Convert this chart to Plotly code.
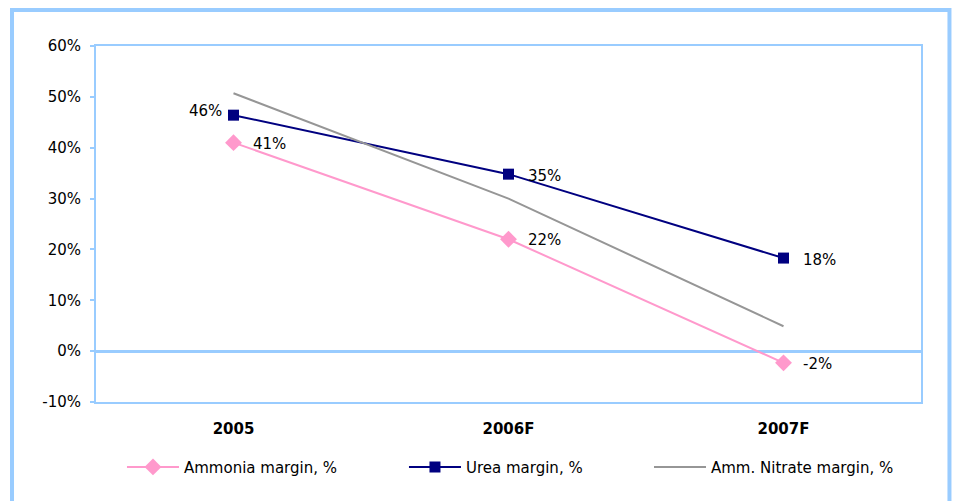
import plotly.graph_objects as go

categories = ["2005", "2006F", "2007F"]
ammonia = [0.41, 0.22, -0.023]
urea = [0.464, 0.348, 0.183]
amm_nitrate = [0.507, 0.30, 0.049]
ammonia_labels = ["41%", "22%", "-2%"]
urea_labels = ["46%", "35%", "18%"]
urea_label_side = ["left", "right", "right"]
y_ticks = [-0.1, 0, 0.1, 0.2, 0.3, 0.4, 0.5, 0.6]
y_tick_labels = ["-10%", "0%", "10%", "20%", "30%", "40%", "50%", "60%"]

BLUE = "#99CCFF"
PINK = "#FF99CC"
NAVY = "#000080"
GRAY = "#969696"
FONT = "DejaVu Sans"

fig = go.Figure()
fig.add_trace(go.Scatter(x=categories, y=ammonia, name="Ammonia margin, %",
                         mode="lines+markers", legend="legend",
                         line=dict(color=PINK, width=2),
                         marker=dict(symbol="diamond", size=13, color=PINK)))
fig.add_trace(go.Scatter(x=categories, y=urea, name="Urea margin, %",
                         mode="lines+markers", legend="legend2",
                         line=dict(color=NAVY, width=2),
                         marker=dict(symbol="square", size=11, color=NAVY)))
fig.add_trace(go.Scatter(x=categories, y=amm_nitrate, name="Amm. Nitrate margin, %",
                         mode="lines", legend="legend3",
                         line=dict(color=GRAY, width=2)))

lab_font = dict(family=FONT, size=15, color="#000000")
annotations = []
for i, (v, t) in enumerate(zip(ammonia, ammonia_labels)):
    annotations.append(dict(x=i, y=v, xref="x", yref="y", text=t, showarrow=False,
                            xanchor="left", xshift=17, yshift=-1, font=lab_font))
for i, (v, t, side) in enumerate(zip(urea, urea_labels, urea_label_side)):
    if side == "left":
        annotations.append(dict(x=i, y=v, xref="x", yref="y", text=t, showarrow=False,
                                xanchor="right", xshift=-10, yshift=4, font=lab_font))
    else:
        annotations.append(dict(x=i, y=v, xref="x", yref="y", text=t, showarrow=False,
                                xanchor="left", xshift=17, yshift=-2, font=lab_font))

leg_common = dict(orientation="h", y=-0.183, yanchor="middle", xanchor="left",
                  font=dict(family=FONT, size=15, color="#000000"),
                  itemwidth=52, bgcolor="rgba(0,0,0,0)")

fig.update_layout(
    width=958, height=501,
    margin=dict(l=96, r=37, t=46, b=99),
    paper_bgcolor="white", plot_bgcolor="white",
    font=dict(family=FONT, size=15, color="#000000"),
    showlegend=True,
    legend=dict(x=0.0315, **leg_common),
    legend2=dict(x=0.3733, **leg_common),
    legend3=dict(x=0.6703, **leg_common),
    annotations=annotations,
    shapes=[dict(type="rect", xref="paper", yref="paper",
                 x0=-0.1018, x1=1.0345, y0=-0.35, y1=1.1011,
                 line=dict(color=BLUE, width=4), fillcolor="rgba(0,0,0,0)", layer="below")],
)
fig.update_xaxes(type="category", range=[-0.5, 2.5], showgrid=False, zeroline=False,
                 showline=True, mirror=True, linecolor=BLUE, linewidth=2,
                 ticks="", tickfont=dict(family=FONT, size=15, color="#000000", weight="bold"),
                 ticklabelstandoff=12)
fig.update_yaxes(range=[-0.1, 0.6], tickvals=y_ticks, ticktext=y_tick_labels, showgrid=False,
                 zeroline=True, zerolinecolor=BLUE, zerolinewidth=3,
                 showline=True, mirror=True, linecolor=BLUE, linewidth=2,
                 ticks="outside", ticklen=4, tickcolor=BLUE, tickwidth=2,
                 tickfont=dict(family=FONT, size=15, color="#000000"),
                 ticklabelstandoff=6)

fig.write_html("out.html")
